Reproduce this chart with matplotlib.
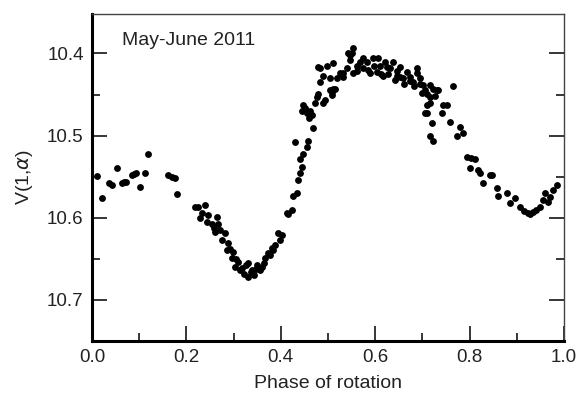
import matplotlib
matplotlib.use("Agg")
import matplotlib.pyplot as plt
from matplotlib.ticker import MultipleLocator

# phase of rotation and reduced magnitude
phase = [0.010, 0.021, 0.035, 0.042, 0.052, 0.063, 0.068, 0.073, 0.084, 0.089,
         0.094, 0.102, 0.112, 0.119, 0.162, 0.170, 0.176, 0.181,
         0.218, 0.225, 0.228, 0.233, 0.239, 0.243, 0.246, 0.254, 0.258, 0.261,
         0.265, 0.267, 0.272, 0.275, 0.282, 0.286, 0.288, 0.292, 0.297, 0.299,
         0.303, 0.305, 0.309, 0.314, 0.318, 0.322,
         0.326, 0.331, 0.331, 0.336, 0.339, 0.344, 0.347, 0.350, 0.355, 0.360,
         0.364, 0.367, 0.373, 0.377, 0.381, 0.384, 0.388, 0.394, 0.398, 0.403,
         0.413, 0.415, 0.424, 0.426, 0.430, 0.434, 0.437, 0.441, 0.441, 0.445,
         0.447, 0.445, 0.447, 0.451, 0.455, 0.455, 0.458, 0.460, 0.462, 0.466,
         0.468, 0.472, 0.477, 0.479, 0.479, 0.483, 0.483, 0.489, 0.489, 0.494,
         0.498, 0.504, 0.504, 0.508, 0.508, 0.511, 0.511, 0.515, 0.519, 0.525,
         0.532, 0.532, 0.540, 0.542, 0.547, 0.547, 0.551, 0.553, 0.553, 0.561,
         0.561, 0.568, 0.574, 0.574, 0.583, 0.585, 0.589, 0.595, 0.598, 0.604,
         0.606, 0.610, 0.612, 0.617, 0.621, 0.625, 0.628, 0.631, 0.638, 0.642,
         0.646, 0.646, 0.653, 0.653, 0.659, 0.662,
         0.667, 0.674, 0.674, 0.680, 0.683, 0.689, 0.689, 0.695, 0.695, 0.700,
         0.701, 0.706, 0.709, 0.709, 0.706, 0.709, 0.716, 0.716, 0.716, 0.716,
         0.720, 0.722, 0.722, 0.726, 0.731, 0.733, 0.741, 0.744, 0.752, 0.758,
         0.765, 0.773, 0.780,
         0.786, 0.794, 0.801, 0.803, 0.811, 0.818, 0.822, 0.828, 0.843, 0.847,
         0.858, 0.860, 0.879, 0.886, 0.896, 0.907, 0.916, 0.924, 0.929, 0.934,
         0.941, 0.949, 0.955, 0.960, 0.966, 0.970, 0.977, 0.985]
mag = [10.549, 10.576, 10.558, 10.560, 10.539, 10.558, 10.557, 10.556, 10.548, 10.547,
       10.546, 10.562, 10.545, 10.523, 10.548, 10.550, 10.551, 10.571,
       10.587, 10.587, 10.600, 10.594, 10.585, 10.605, 10.597, 10.607, 10.612, 10.617,
       10.599, 10.607, 10.615, 10.627, 10.619, 10.639, 10.631, 10.638, 10.649, 10.642,
       10.660, 10.650, 10.654, 10.664, 10.661, 10.668,
       10.657, 10.655, 10.672, 10.666, 10.664, 10.670, 10.662, 10.658, 10.664, 10.660,
       10.655, 10.649, 10.643, 10.645, 10.637, 10.639, 10.633, 10.619, 10.627, 10.621,
       10.594, 10.596, 10.591, 10.573, 10.508, 10.570, 10.554, 10.546, 10.528, 10.538,
       10.522, 10.470, 10.463, 10.466, 10.514, 10.472, 10.506, 10.478, 10.470, 10.475,
       10.491, 10.460, 10.453, 10.449, 10.417, 10.435, 10.418, 10.460, 10.427, 10.457,
       10.415, 10.430, 10.445, 10.447, 10.451, 10.412, 10.443, 10.443, 10.430, 10.424,
       10.429, 10.424, 10.418, 10.400, 10.408, 10.402, 10.400, 10.393, 10.424, 10.421,
       10.415, 10.411, 10.405, 10.418, 10.411, 10.420, 10.424, 10.406, 10.415, 10.423,
       10.406, 10.415, 10.425, 10.427, 10.411, 10.417, 10.425, 10.418, 10.411, 10.432,
       10.427, 10.421, 10.417, 10.429, 10.430, 10.437,
       10.423, 10.429, 10.433, 10.435, 10.440, 10.418, 10.424, 10.430, 10.437, 10.448,
       10.439, 10.445, 10.449, 10.463, 10.473, 10.472, 10.439, 10.453, 10.460, 10.500,
       10.485, 10.443, 10.506, 10.452, 10.445, 10.445, 10.472, 10.463, 10.463, 10.484,
       10.440, 10.501, 10.490,
       10.497, 10.526, 10.540, 10.527, 10.528, 10.542, 10.545, 10.558, 10.548, 10.548,
       10.564, 10.573, 10.570, 10.582, 10.576, 10.587, 10.592, 10.594, 10.595, 10.593,
       10.590, 10.587, 10.578, 10.570, 10.581, 10.575, 10.566, 10.560]

plt.rcParams['font.family'] = ['Liberation Sans', 'DejaVu Sans']

fig = plt.figure(figsize=(5.8, 4), dpi=100)
ax = fig.add_axes([0.1586, 0.1475, 0.8138, 0.8175])
ax.plot(phase, mag, 'o', color='black', ms=3.9, mec='black')

ax.set_xlim(0, 1.0)
ax.set_ylim(10.75, 10.352)
ax.xaxis.set_major_locator(MultipleLocator(0.2))
ax.xaxis.set_minor_locator(MultipleLocator(0.1))
ax.yaxis.set_major_locator(MultipleLocator(0.1))
ax.yaxis.set_minor_locator(MultipleLocator(0.05))
ax.set_xticks([0.0, 0.2, 0.4, 0.6, 0.8, 1.0])
ax.set_xticklabels(['0.0', '0.2', '0.4', '0.6', '0.8', '1.0'])
ax.set_yticks([10.4, 10.5, 10.6, 10.7])
ax.set_yticklabels(['10.4', '10.5', '10.6', '10.7'])

ax.tick_params(which='major', direction='in', length=11, width=1.1,
               labelsize=13.5, labelcolor='#222222', right=True, top=False, pad=6)
ax.tick_params(which='minor', direction='in', length=5.5, width=1.1,
               right=True, top=False)

for s in ['left', 'bottom']:
    ax.spines[s].set_linewidth(2.2)
for s in ['top', 'right']:
    ax.spines[s].set_linewidth(1.0)
    ax.spines[s].set_color('#444444')

ax.set_xlabel('Phase of rotation', fontsize=14, color='#222222', labelpad=6)
ax.set_ylabel(r'V(1,$\alpha$)', fontsize=14, color='#222222', labelpad=9)
ax.text(0.064, 0.92, 'May-June 2011', transform=ax.transAxes, fontsize=14,
        color='#222222', va='center')

fig.savefig('out.png', dpi=100)
